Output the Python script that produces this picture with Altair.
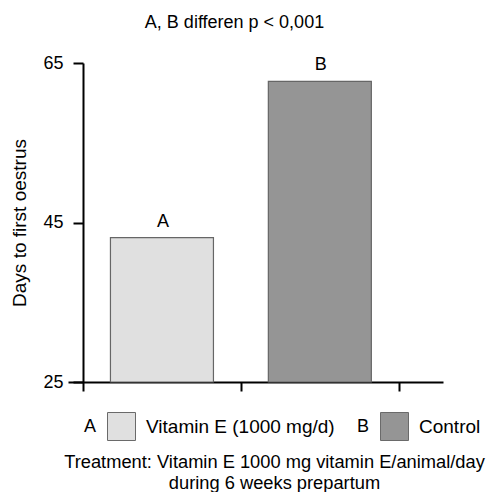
import altair as alt
import pandas as pd

# ---- data ----
letters = ["A", "B"]
groups = ["Vitamin E (1000 mg/d)", "Control"]
values = [43.1, 62.7]
positions = [0.5, 1.5]
fills = ["#e0e0e0", "#959595"]
y_ticks = [25, 45, 65]
x_ticks = [0, 1, 2]

title_text = "A, B differen p < 0,001"
y_title = "Days to first oestrus"
caption = ["Treatment: Vitamin E 1000 mg vitamin E/animal/day", "during 6 weeks prepartum"]

FONT = "Liberation Sans"

df = pd.DataFrame({"letter": letters, "group": groups, "value": values, "pos": positions})

x_enc = alt.X(
    "pos:Q",
    scale=alt.Scale(domain=[-0.095, 2.28], nice=False, zero=False, padding=0),
    axis=alt.Axis(
        values=x_ticks, labels=False, grid=False, tickSize=9, tickWidth=2,
        tickColor="black", domainColor="black", domainWidth=2,
        title=caption, titleFont=FONT, titleFontSize=18.3, titleFontWeight="normal",
        titleColor="black", titleX=206, titleY=85, titleAlign="center",
        titleBaseline="alphabetic", titleLineHeight=21, titleAnchor="start",
    ),
)
y_enc = alt.Y(
    "value:Q",
    scale=alt.Scale(domain=[25, 65], nice=False, zero=False, padding=0),
    axis=alt.Axis(
        values=y_ticks, grid=False, offset=-15, tickSize=10, tickWidth=2,
        tickColor="black", domainColor="black", domainWidth=2,
        labelFont=FONT, labelFontSize=18, labelColor="black", labelPadding=10,
        title=y_title, titleFont=FONT, titleFontSize=19, titleFontWeight="normal",
        titleColor="black", titlePadding=13,
    ),
)

base = alt.Chart(df)

def bar_layer(i, legend_x):
    return base.transform_filter(alt.datum.letter == letters[i]).mark_bar(
        size=103, stroke="#666666", strokeWidth=1.2
    ).encode(
        x=x_enc,
        y=y_enc,
        y2=alt.datum(25),
        fill=alt.Fill(
            "group:N",
            scale=alt.Scale(domain=[groups[i]], range=[fills[i]]),
            legend=alt.Legend(
                title=letters[i], titleOrient="left", titleFont=FONT, titleFontSize=18,
                titleFontWeight="normal", titleColor="black", titlePadding=10,
                orient="none", legendX=legend_x, legendY=349, padding=0,
                symbolType="square", symbolSize=784, symbolStrokeColor="#6a6a6a",
                symbolStrokeWidth=1, labelFont=FONT, labelFontSize=19,
                labelColor="black", labelOffset=10, labelLimit=400,
                titleBaseline="middle",
            ),
        ),
    )

bars_a = bar_layer(0, 16)
bars_b = bar_layer(1, 289)

labels = base.mark_text(
    font=FONT, fontSize=18, color="black", baseline="bottom", dy=-7, dx=1
).encode(x="pos:Q", y="value:Q", text="letter:N")

chart = alt.layer(bars_a, bars_b, labels).resolve_scale(
    fill="independent"
).properties(
    width=375,
    height=319,
    autosize=alt.AutoSizeParams(type="none"),
    padding={"left": 60, "top": 55, "right": 45, "bottom": 110},
    title=alt.TitleParams(
        title_text, font=FONT, fontSize=18, fontWeight="normal", color="black",
        anchor="middle", dx=-21, baseline="alphabetic", offset=8,
    ),
).configure_view(stroke=None)

chart.save("out.html", embed_options={"renderer": "svg", "actions": False})
